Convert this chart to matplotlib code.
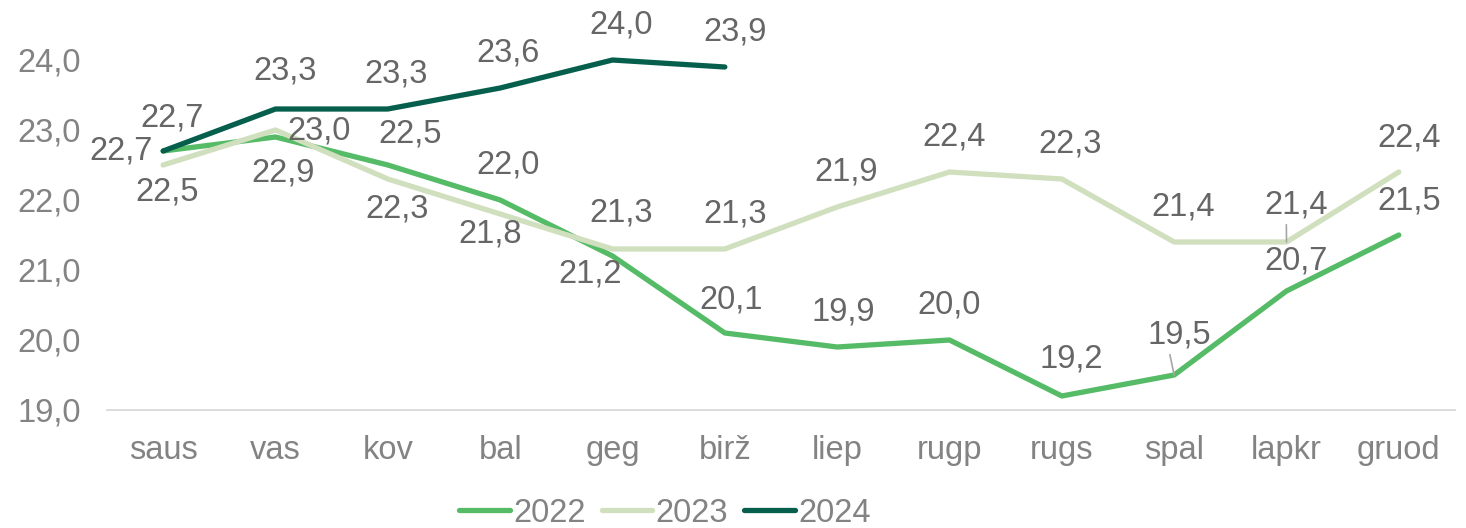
import matplotlib
matplotlib.use("Agg")
import matplotlib.pyplot as plt

months = ["saus", "vas", "kov", "bal", "geg", "birž", "liep", "rugp", "rugs", "spal", "lapkr", "gruod"]
v2022 = [22.7, 22.9, 22.5, 22.0, 21.2, 20.1, 19.9, 20.0, 19.2, 19.5, 20.7, 21.5]
v2023 = [22.5, 23.0, 22.3, 21.8, 21.3, 21.3, 21.9, 22.4, 22.3, 21.4, 21.4, 22.4]
v2024 = [22.7, 23.3, 23.3, 23.6, 24.0, 23.9]
yticks = [19, 20, 21, 22, 23, 24]

# label offsets in pixels (dx, dy up)
off2022 = [(-42, 0), (8, -36), (22, 31), (8, 35), (-22, -18), (6, 33), (6, 35), (0, 35), (9, 37), (5, 40), (10, 30), (10, 34)]
off2023 = [(4, -27), (44, -1), (9, -30), (-10, -20), (9, 36), (10, 35), (9, 35), (5, 35), (8, 35), (9, 35), (10, 37), (10, 34)]
off2024 = [(9, 33), (10, 38), (8, 35), (8, 35), (9, 35), (10, 35)]
leaders = {("2022", 9), ("2023", 10)}

c2022, c2023, c2024 = "#55BB66", "#D0DFBD", "#065F4C"
lab_color = "#666666"
tick_color = "#838383"
fs = 23.5

plt.rcParams["font.family"] = ["Liberation Sans", "DejaVu Sans"]

fig = plt.figure(figsize=(14.66, 5.28), dpi=100)
ax = fig.add_axes([107 / 1466, (528 - 410) / 528, (1455 - 107) / 1466, (410 - 25) / 528])

x = list(range(len(months)))
series = [("2022", v2022, c2022, off2022), ("2023", v2023, c2023, off2023), ("2024", v2024, c2024, off2024)]
for name, vals, col, offs in series:
    xs = x[:len(vals)]
    ax.plot(xs, vals, color=col, lw=3.8, solid_capstyle="round", solid_joinstyle="round", label=name, zorder=3)
for name, vals, col, offs in series:
    for i, (v, o) in enumerate(zip(vals, offs)):
        txt = f"{v:.1f}".replace(".", ",")
        kw = dict(xytext=(o[0], o[1]), textcoords="offset pixels",
                  ha="center", va="center", fontsize=fs, color=lab_color, zorder=4)
        if (name, i) in leaders:
            kw["arrowprops"] = dict(arrowstyle="-", color="#A6A6A6", lw=1.2, shrinkA=1, shrinkB=0,
                                    relpos=(0.34, 0.0))
        ax.annotate(txt, (i, v), **kw)

ax.set_xlim(-0.5, len(months) - 0.5)
ax.set_ylim(19, 24.5)
ax.set_xticks(x)
ax.set_xticklabels(months)
ax.set_yticks(yticks)
ax.set_yticklabels([f"{t:.1f}".replace(".", ",") for t in yticks])
for s in ["top", "right", "left"]:
    ax.spines[s].set_visible(False)
ax.spines["bottom"].set_color("#D9D9D9")
ax.spines["bottom"].set_linewidth(1.3)
ax.tick_params(axis="both", length=0, labelsize=fs, colors=tick_color)
ax.tick_params(axis="y", pad=19)
ax.tick_params(axis="x", pad=18)

leg = fig.legend(loc="center", bbox_to_anchor=(665 / 1466, 1 - 513 / 528), ncol=3, frameon=False,
                 fontsize=fs, handlelength=1.55, handletextpad=0.1, columnspacing=0.5)
for t in leg.get_texts():
    t.set_color(tick_color)

fig.savefig("out.png", dpi=100)
